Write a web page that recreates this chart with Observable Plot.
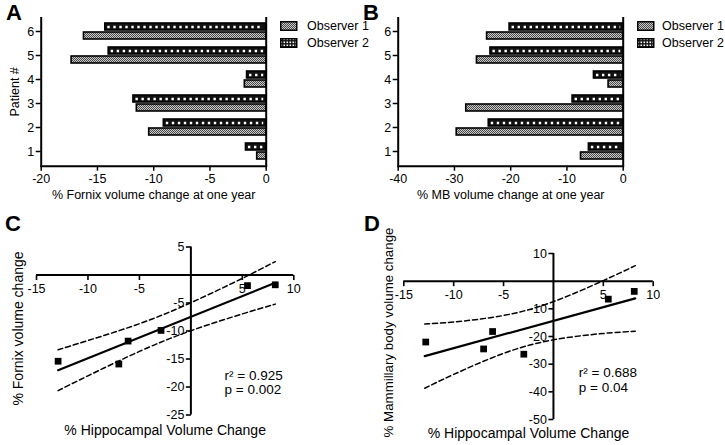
<!DOCTYPE html>
<html><head><meta charset="utf-8">
<script src="https://cdn.jsdelivr.net/npm/d3@7"></script>
<script src="https://cdn.jsdelivr.net/npm/@observablehq/plot@0.6"></script>
<style>
body{margin:0;background:#fff;font-family:"Liberation Sans",Arial,Helvetica,sans-serif;}
#wrap{position:relative;width:725px;height:445px;overflow:hidden;background:#fff;}
.leg{position:absolute;font-size:12.5px;line-height:12px;white-space:nowrap;color:#000;}
</style></head>
<body>
<svg width="0" height="0" style="position:absolute">
  <defs>
    <pattern id="obs1" width="2" height="2" patternUnits="userSpaceOnUse">
      <rect width="2" height="2" fill="#c8c8c8"/>
      <rect width="1" height="1" fill="#4a4a4a"/>
      <rect x="1" y="1" width="1" height="1" fill="#4a4a4a"/>
    </pattern>
    <pattern id="obs2sw" width="3" height="3" patternUnits="userSpaceOnUse">
      <rect width="3" height="3" fill="#111"/>
      <rect x="0.5" y="0.5" width="1.6" height="1.6" fill="#fff"/>
    </pattern>
  </defs>
</svg>
<div id="wrap"></div>
<script>
// ---------- data ----------
const patients = [1, 2, 3, 4, 5, 6];
const legendLabels = ["Observer 1", "Observer 2"];
// Panel A: % fornix volume change at one year
const fornixObs1 = [-0.8, -10.4, -11.5, -1.9, -17.3, -16.2];
const fornixObs2 = [-1.8, -9.1, -11.8, -1.7, -14.0, -14.3];
// Panel B: % MB volume change at one year
const mbObs1 = [-7.5, -29.6, -27.9, -2.6, -26.0, -24.2];
const mbObs2 = [-6.1, -23.9, -9.0, -5.2, -23.6, -20.2];
const ticksA = [-20, -15, -10, -5, 0];
const ticksB = [-40, -30, -20, -10, 0];

// Panels C & D: scatter vs hippocampal change
const hippoC = [-12.9, -7.0, -6.1, -2.9, 5.5, 8.2];
const fornixC = [-15.4, -15.9, -11.8, -9.9, -1.9, -1.75];
const hippoD = [-12.8, -7.0, -6.1, -2.97, 5.5, 8.1];
const mbD = [-22.0, -24.5, -18.2, -26.4, -6.5, -3.7];
// regression lines and 95% bands
const fitX = [-12.9, 8.2];
const fitC = [-17.0, -1.4];
const fitD = [-27.1, -6.2];
const bandX = [-12.9, -10, -5, 0, 5, 8.2];
const upperC = [-13.35, -11.7, -8.7, -4.95, -0.6, 2.4];
const lowerC = [-20.65, -18.0, -13.65, -9.95, -6.95, -5.2];
const upperD = [-15.5, -14.75, -12.4, -7.4, 0.2, 5.6];
const lowerD = [-38.7, -33.7, -26.1, -21.2, -18.9, -18.1];
const scatterXTicks = [-15, -10, -5, 5, 10];
const yTicksC = [5, -5, -10, -15, -20, -25];
const yTicksD = [10, -10, -20, -30, -40, -50];
const statsC = ["r\u00B2 = 0.925", "p = 0.002"];
const statsD = ["r\u00B2 = 0.688", "p = 0.04"];
const panelLetters = ["A", "B", "C", "D"];

// ---------- drawing ----------
const W = 725, H = 445;
const FONT = "Liberation Sans, Arial, Helvetica, sans-serif";
const wrap = document.getElementById("wrap");
function place(el) {
  el.style.position = "absolute";
  el.style.left = "0px";
  el.style.top = "0px";
  el.style.background = "transparent";
  el.style.maxWidth = "none";
  wrap.appendChild(el);
}

function barPanel(obs1, obs2, xDomain, xTicks, xLabel, yLabel, left, right) {
  const d1 = patients.map((p, i) => ({patient: p, value: obs1[i]}));
  const d2 = patients.map((p, i) => ({patient: p, value: obs2[i]}));
  const marks = [
    Plot.barX(d1, {y: "patient", x1: "value", x2: 0, fill: "url(#obs1)", stroke: "black", strokeWidth: 1.6, insetTop: 13, insetBottom: 4}),
    Plot.barX(d2, {y: "patient", x1: "value", x2: 0, fill: "#111", stroke: "black", strokeWidth: 1.6, insetTop: 4, insetBottom: 13}),
    Plot.ruleY(d2, {y: "patient", x1: "value", x2: 0, dy: -4.5, insetLeft: 2.5, insetRight: 2.5, stroke: "white", strokeWidth: 2.4, strokeDasharray: "2.4 3.6"}),
    Plot.ruleX([xDomain[0], 0], {stroke: "black", strokeWidth: 2}),
    Plot.frame({anchor: "bottom", stroke: "black", strokeWidth: 2}),
    Plot.axisX({ticks: xTicks, tickFormat: d => String(d), tickSize: 5, tickPadding: 3, fontSize: 12.5, strokeWidth: 1.5, label: null}),
    Plot.axisY({tickSize: 5, tickPadding: 2, fontSize: 12.5, strokeWidth: 1.5, label: null}),
    Plot.text([xLabel], {text: d => d, frameAnchor: "bottom", dy: 33, fontSize: 12.5})
  ];
  if (yLabel) marks.push(Plot.text([yLabel], {text: d => d, frameAnchor: "left", dx: -26, rotate: -90, textAnchor: "middle", fontSize: 12.5}));
  return Plot.plot({
    width: W, height: H,
    marginLeft: left, marginRight: W - right, marginTop: 17, marginBottom: H - 165.7,
    x: {domain: xDomain},
    y: {type: "band", domain: [6, 5, 4, 3, 2, 1], padding: 0},
    style: {fontFamily: FONT, background: "transparent", color: "black"},
    marks
  });
}

const tickDown = {draw(ctx) { ctx.moveTo(0, 0); ctx.lineTo(0, 5); }};
const tickLeft = {draw(ctx) { ctx.moveTo(0, 0); ctx.lineTo(-5, 0); }};

function scatterPanel(c) {
  const pts = c.hx.map((h, i) => ({x: h, y: c.yv[i]}));
  const fit = fitX.map((x, i) => ({x, y: c.fit[i]}));
  const up = bandX.map((x, i) => ({x, y: c.up[i]}));
  const lo = bandX.map((x, i) => ({x, y: c.lo[i]}));
  return Plot.plot({
    width: W, height: H,
    marginLeft: c.left, marginRight: W - c.right, marginTop: c.top, marginBottom: H - c.bottom,
    x: {domain: [-15, 10], axis: null},
    y: {domain: c.yDomain, axis: null},
    style: {fontFamily: FONT, background: "transparent", color: "black"},
    marks: [
      Plot.ruleY([0], {x1: -15, x2: 10, stroke: "black", strokeWidth: 2}),
      Plot.ruleX([0], {y1: c.yDomain[0], y2: c.yDomain[1], stroke: "black", strokeWidth: 2}),
      Plot.dot(scatterXTicks, {x: d => d, y: 0, symbol: tickDown, r: 3, stroke: "black", strokeWidth: 1.6, fill: "none"}),
      Plot.dot(c.yTicks, {x: 0, y: d => d, symbol: tickLeft, r: 3, stroke: "black", strokeWidth: 1.6, fill: "none"}),
      Plot.text(scatterXTicks, {x: d => d, y: 0, dy: 13.5, text: d => String(d), fontSize: 12.5}),
      Plot.text(c.yTicks, {x: 0, y: d => d, dx: -6.5, textAnchor: "end", text: d => String(d), fontSize: 12.5}),
      Plot.line(up, {x: "x", y: "y", curve: "natural", stroke: "black", strokeWidth: 1.5, strokeDasharray: "5 3"}),
      Plot.line(lo, {x: "x", y: "y", curve: "natural", stroke: "black", strokeWidth: 1.5, strokeDasharray: "5 3"}),
      Plot.line(fit, {x: "x", y: "y", stroke: "black", strokeWidth: 2.2}),
      Plot.dot(pts, {x: "x", y: "y", symbol: "square", r: 3.8, fill: "black"}),
      Plot.text([c.stats[0]], {text: d => d, frameAnchor: "top-left", dx: c.sx, dy: c.sy1, textAnchor: "start", fontSize: 13.5}),
      Plot.text([c.stats[1]], {text: d => d, frameAnchor: "top-left", dx: c.sx, dy: c.sy2, textAnchor: "start", fontSize: 13.5}),
      Plot.text([c.xLabel], {text: d => d, frameAnchor: "bottom", dy: c.xdy, fontSize: 14}),
      Plot.text([c.yLabel], {text: d => d, frameAnchor: "left", dx: c.ydx, dy: c.ydy, rotate: -90, textAnchor: "middle", fontSize: c.yfs})
    ]
  });
}

place(barPanel(fornixObs1, fornixObs2, [-20, 0], ticksA, "% Fornix volume change at one year", "Patient #", 40.7, 265.7));
place(barPanel(mbObs1, mbObs2, [-40, 0], ticksB, "% MB volume change at one year", null, 397.7, 622.7));
place(scatterPanel({hx: hippoC, yv: fornixC, fit: fitC, up: upperC, lo: lowerC, yDomain: [-25, 5], yTicks: yTicksC,
  left: 36, right: 293.3, top: 246.5, bottom: 414.5, stats: statsC, sx: 188, sy1: 123, sy2: 137,
  xLabel: "% Hippocampal Volume Change", xdy: 20, yLabel: "% Fornix volume change", ydx: -18, ydy: -2.5, yfs: 14}));
place(scatterPanel({hx: hippoD, yv: mbD, fit: fitD, up: upperD, lo: lowerD, yDomain: [-50, 10], yTicks: yTicksD,
  left: 403.3, right: 652.7, top: 253, bottom: 419, stats: statsD, sx: 175, sy1: 113.5, sy2: 129,
  xLabel: "% Hippocampal Volume Change", xdy: 18.5, yLabel: "% Mammillary body volume change", ydx: -15.5, ydy: -4, yfs: 13.3}));

// legends
function legend(sx, tx) {
  legendLabels.forEach((lab, i) => {
    const top = i === 0 ? 21 : 38.3;
    const sw = document.createElementNS("http://www.w3.org/2000/svg", "svg");
    sw.setAttribute("width", 18); sw.setAttribute("height", 10);
    sw.style.position = "absolute"; sw.style.left = sx + "px"; sw.style.top = top + "px";
    const r = document.createElementNS("http://www.w3.org/2000/svg", "rect");
    r.setAttribute("x", 0.75); r.setAttribute("y", 0.75); r.setAttribute("width", 16); r.setAttribute("height", 8.5);
    r.setAttribute("fill", i === 0 ? "url(#obs1)" : "url(#obs2sw)");
    r.setAttribute("stroke", "black"); r.setAttribute("stroke-width", 1.5);
    sw.appendChild(r);
    wrap.appendChild(sw);
    const t = document.createElement("div");
    t.className = "leg"; t.textContent = lab;
    t.style.left = tx + "px"; t.style.top = (top - 1) + "px";
    wrap.appendChild(t);
  });
}
legend(280, 307);
legend(637, 662);

// panel letters
const letterSvg = d3.create("svg").attr("width", W).attr("height", H);
const letterPos = [[6, 20], [363, 20], [5, 231], [364, 231]];
letterSvg.selectAll("text").data(panelLetters).join("text")
  .attr("x", (d, i) => letterPos[i][0]).attr("y", (d, i) => letterPos[i][1])
  .attr("font-family", FONT).attr("font-weight", "bold").attr("font-size", 22)
  .text(d => d);
place(letterSvg.node());
</script>
</body></html>
